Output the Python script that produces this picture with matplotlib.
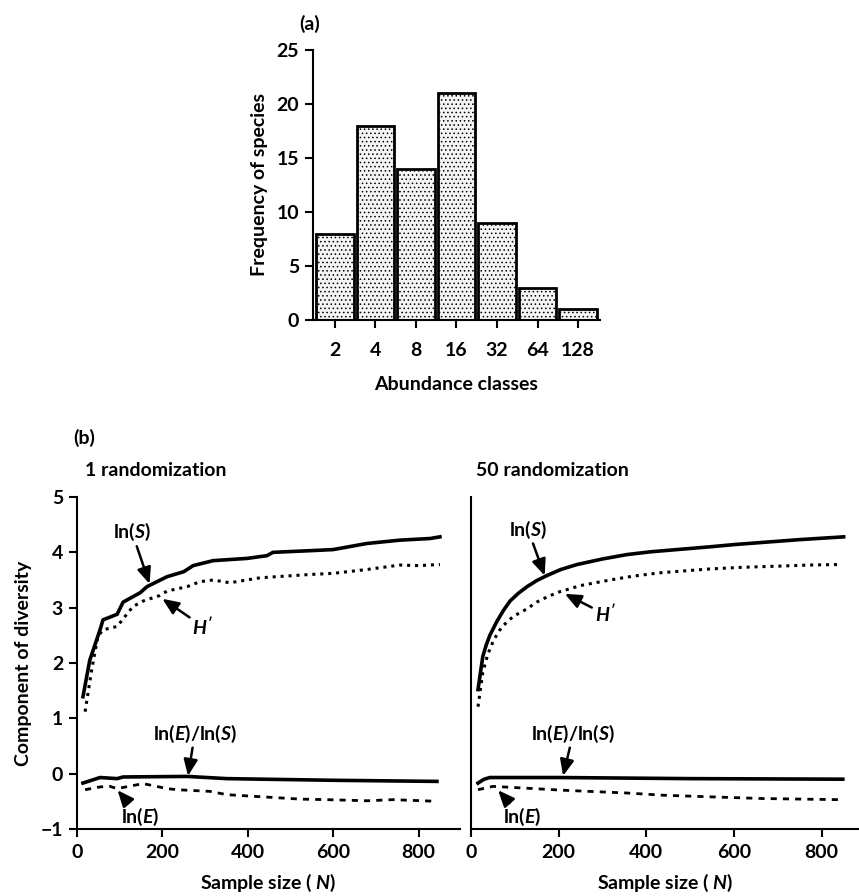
import matplotlib.pyplot as plt
import numpy as np

# Fonts: geometric bold sans, italic maths letters
plt.rcParams['font.family'] = ['Lato', 'DejaVu Sans']
plt.rcParams['font.weight'] = 'bold'
plt.rcParams['axes.labelweight'] = 'bold'
plt.rcParams['font.size'] = 14
plt.rcParams['mathtext.fontset'] = 'custom'
plt.rcParams['mathtext.it'] = 'Lato:italic:bold'
plt.rcParams['mathtext.rm'] = 'Lato:bold'
plt.rcParams['hatch.color'] = '#8a8a8a'
plt.rcParams['hatch.linewidth'] = 0.6

# (a) abundance histogram
classes = ['2', '4', '8', '16', '32', '64', '128']
freq = [8, 18, 14, 21, 9, 3, 1]

# (b) 1 randomization
n1_lnS = [14, 30, 54, 61, 94, 108, 148, 164, 211, 250, 272, 319, 398, 445, 459, 546, 600, 679, 756, 827, 850]
lnS_1 = [1.39, 2.05, 2.6, 2.78, 2.88, 3.1, 3.27, 3.38, 3.56, 3.65, 3.76, 3.85, 3.89, 3.94, 4.0, 4.03, 4.05, 4.16, 4.22, 4.25, 4.28]
n1_H = [19, 35, 49, 61, 94, 131, 155, 194, 211, 258, 288, 319, 358, 429, 546, 600, 679, 756, 800, 850]
H_1 = [1.12, 1.9, 2.48, 2.6, 2.66, 3.02, 3.12, 3.22, 3.3, 3.38, 3.47, 3.5, 3.45, 3.54, 3.6, 3.62, 3.69, 3.77, 3.76, 3.78]
n1_ratio = [14, 54, 94, 108, 258, 351, 600, 843]
ratio_1 = [-0.17, -0.07, -0.09, -0.06, -0.05, -0.09, -0.12, -0.14]
n1_E = [19, 54, 77, 94, 155, 211, 234, 311, 351, 522, 585, 680, 740, 843]
E_1 = [-0.29, -0.24, -0.23, -0.27, -0.18, -0.27, -0.29, -0.32, -0.38, -0.46, -0.47, -0.49, -0.47, -0.5]

# (b) 50 randomizations
n50_lnS = [16, 22, 27, 35, 43, 59, 74, 89, 108, 128, 150, 173, 205, 242, 300, 356, 410, 470, 545, 600, 666, 750, 850]
lnS_50 = [1.52, 1.85, 2.12, 2.33, 2.5, 2.75, 2.95, 3.12, 3.26, 3.38, 3.49, 3.58, 3.69, 3.78, 3.88, 3.96, 4.01, 4.05, 4.1, 4.14, 4.18, 4.23, 4.28]
n50_H = [16, 22, 27, 38, 52, 70, 96, 128, 150, 175, 203, 250, 317, 370, 431, 545, 620, 700, 770, 841]
H_50 = [1.21, 1.55, 1.83, 2.15, 2.42, 2.65, 2.84, 2.98, 3.1, 3.2, 3.29, 3.4, 3.5, 3.57, 3.63, 3.7, 3.73, 3.75, 3.77, 3.78]
n50_ratio = [16, 30, 43, 200, 500, 848]
ratio_50 = [-0.17, -0.1, -0.07, -0.07, -0.09, -0.1]
n50_E = [16, 50, 120, 210, 356, 438, 550, 666, 841]
E_50 = [-0.29, -0.23, -0.26, -0.3, -0.35, -0.39, -0.42, -0.45, -0.47]

fig = plt.figure(figsize=(8.59, 8.96), dpi=100)

# ---- panel (a)
axa = fig.add_axes([0.3644, 0.6429, 0.334, 0.3013])
x = np.arange(len(classes))
axa.bar(x, freq, width=0.92, facecolor='#f4f4f4', edgecolor='black',
        linewidth=2, hatch='....')
axa.set_xlim(-0.54, 6.54)
axa.set_ylim(0, 25)
axa.set_yticks([0, 5, 10, 15, 20, 25])
axa.set_xticks(x)
axa.set_xticklabels(classes)
axa.set_ylabel('Frequency of species', labelpad=6)
axa.set_xlabel('Abundance classes', labelpad=12)
for s in ['top', 'right']:
    axa.spines[s].set_visible(False)
for s in ['left', 'bottom']:
    axa.spines[s].set_linewidth(1.5)
axa.tick_params(width=1.5, length=6, pad=4)
axa.tick_params(axis='x', pad=10)
fig.text(0.361, 0.973, '(a)', ha='center', va='center', fontsize=14)

# ---- panel (b)
solid_kw = dict(color='black', linewidth=2.6, solid_joinstyle='round')
dot_kw = dict(color='black', linewidth=2.2, linestyle=(0, (1, 1.6)))
dash_kw = dict(color='black', linewidth=2.0, linestyle=(0, (2.2, 2.2)))
arrow = dict(arrowstyle='-|>,head_length=0.7,head_width=0.3', color='black',
             linewidth=1.8, shrinkA=0, shrinkB=0)


def lab(ax, txt, xy, xytext):
    ax.annotate(txt, xy=xy, xytext=xytext, ha='center', va='center',
                fontsize=14, arrowprops=arrow)


axl = fig.add_axes([0.0896, 0.0748, 0.4459, 0.3705])
axl.plot(n1_lnS, lnS_1, **solid_kw)
axl.plot(n1_H, H_1, **dot_kw)
axl.plot(n1_ratio, ratio_1, **solid_kw)
axl.plot(n1_E, E_1, **dash_kw)
axl.set_xlim(0, 897)
axl.set_ylim(-1, 5)
axl.set_xticks([0, 200, 400, 600, 800])
axl.set_yticks([-1, 0, 1, 2, 3, 4, 5])
axl.set_yticklabels(['\u22121', '0', '1', '2', '3', '4', '5'])
axl.set_ylabel('Component of diversity', labelpad=6)
axl.set_xlabel(r'Sample size ( $\mathit{N}$)', labelpad=8)
axl.text(0.02, 1.055, '1 randomization', transform=axl.transAxes, ha='left',
         va='bottom', fontsize=14)
axl.text(-0.01, 1.15, '(b)', transform=axl.transAxes, ha='left',
         va='bottom', fontsize=14)

axr = fig.add_axes([0.5483, 0.0748, 0.4517, 0.3705])
axr.plot(n50_lnS, lnS_50, **solid_kw)
axr.plot(n50_H, H_50, **dot_kw)
axr.plot(n50_ratio, ratio_50, **solid_kw)
axr.plot(n50_E, E_50, **dash_kw)
axr.set_xlim(0, 885)
axr.set_ylim(-1, 5)
axr.set_xticks([0, 200, 400, 600, 800])
axr.set_yticks([])
axr.set_xlabel(r'Sample size ( $\mathit{N}$)', labelpad=8)
axr.text(0.013, 1.055, '50 randomization', transform=axr.transAxes, ha='left',
         va='bottom', fontsize=14)

for ax in [axl, axr]:
    for s in ['top', 'right']:
        ax.spines[s].set_visible(False)
    for s in ['left', 'bottom']:
        ax.spines[s].set_linewidth(1.5)
    ax.tick_params(width=1.5, length=6, pad=4)
    ax.tick_params(axis='x', pad=5)

lab(axl, r'ln($\mathit{S}$)', (170, 3.43), (129, 4.36))
lab(axl, r"$\mathit{H'}$", (200, 3.16), (295, 2.66))
lab(axl, r'ln($\mathit{E}$)/ln($\mathit{S}$)', (260, -0.04), (276, 0.72))
lab(axl, r'ln($\mathit{E}$)', (95, -0.3), (148, -0.78))

lab(axr, r'ln($\mathit{S}$)', (168, 3.58), (130, 4.41))
lab(axr, r"$\mathit{H'}$", (214, 3.25), (306, 2.88))
lab(axr, r'ln($\mathit{E}$)/ln($\mathit{S}$)', (210, -0.04), (233, 0.72))
lab(axr, r'ln($\mathit{E}$)', (62, -0.3), (116, -0.78))

fig.savefig('out.png', dpi=100, facecolor='white')
